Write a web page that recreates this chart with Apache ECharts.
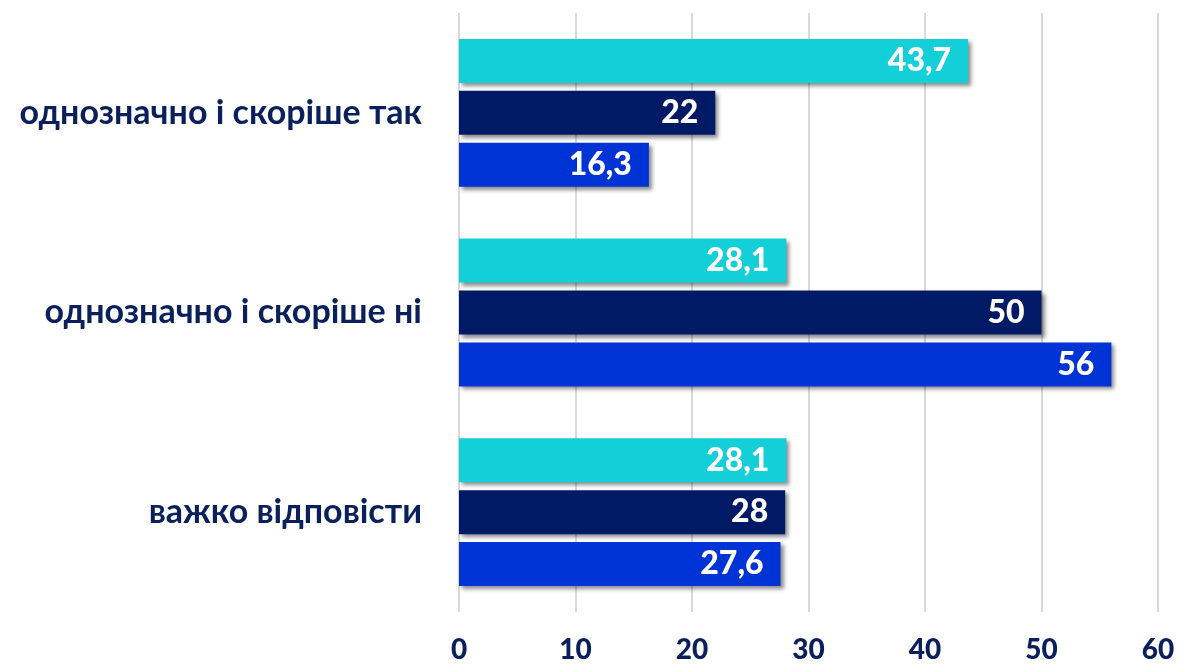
<!DOCTYPE html>
<html>
<head>
<meta charset="utf-8">
<script src="https://cdn.jsdelivr.net/npm/echarts@6/dist/echarts.min.js"></script>
<style>
  html, body { margin: 0; padding: 0; background: #fff; }
  #main { width: 1178px; height: 667px; }
</style>
</head>
<body>
<div id="main"></div>
<script>
var categories = ['однозначно і скоріше так', 'однозначно і скоріше ні', 'важко відповісти'];
var seriesA = [43.7, 28.1, 28.1];
var seriesB = [22, 50, 28];
var seriesC = [16.3, 56, 27.6];
var xTicks = [0, 10, 20, 30, 40, 50, 60];

var colors = ['#13cfd8', '#001a66', '#0033d6'];
var font = 'Lato, "Open Sans", sans-serif';

function makeSeries(name, data, color) {
  return {
    name: name,
    type: 'bar',
    data: data,
    barWidth: 44,
    barGap: '18%',
    itemStyle: {
      color: color,
      shadowColor: 'rgba(0,0,0,0.45)',
      shadowBlur: 4,
      shadowOffsetX: 3,
      shadowOffsetY: 3
    },
    label: {
      show: true,
      position: 'insideRight',
      offset: [-12, 0],
      color: '#fff',
      fontFamily: font,
      fontWeight: 900,
      fontSize: 32,
      formatter: function (p) { return String(p.value).replace('.', ','); }
    }
  };
}

var myChart = echarts.init(document.getElementById('main'));
var option = {
  animation: false,
  grid: { left: 459, right: 20, top: 13, bottom: 55 },
  xAxis: {
    type: 'value',
    min: xTicks[0],
    max: xTicks[xTicks.length - 1],
    interval: 10,
    axisLine: { show: false },
    axisTick: { show: false },
    splitLine: { lineStyle: { color: '#d9d9d9', width: 2 } },
    axisLabel: {
      margin: 24,
      color: '#0a1f5c',
      fontFamily: font,
      fontWeight: 900,
      fontSize: 28
    }
  },
  yAxis: {
    type: 'category',
    inverse: true,
    data: categories,
    axisLine: { show: false },
    axisTick: { show: false },
    axisLabel: {
      margin: 37,
      color: '#0a1f5c',
      fontFamily: font,
      fontWeight: 'bold',
      fontSize: 34
    }
  },
  series: [
    makeSeries('A', seriesA, colors[0]),
    makeSeries('B', seriesB, colors[1]),
    makeSeries('C', seriesC, colors[2])
  ]
};
myChart.setOption(option);
</script>
</body>
</html>
